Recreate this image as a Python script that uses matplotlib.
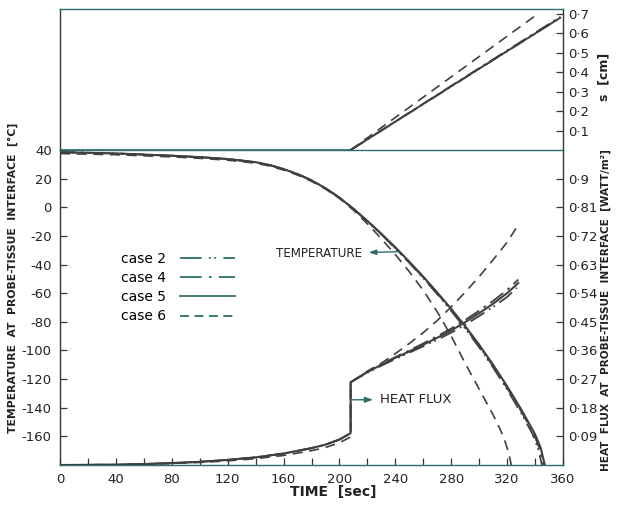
import matplotlib
matplotlib.use("Agg")
import matplotlib.pyplot as plt
from matplotlib.lines import Line2D

# ---------------- data ----------------
# Temperature at probe-tissue interface [°C]
t_T5 = [0, 40, 80, 100, 120, 140, 150, 160, 170, 180, 190, 200, 210, 220, 230, 240, 250,
        260, 270, 280, 290, 300, 310, 320, 330, 340, 344, 347]
T5 = [38.5, 37.6, 36, 35, 33.7, 31.5, 29.5, 26.7, 23.2, 18.8, 13.3, 6.7, -1, -9.5, -18.5, -28, -38,
      -48.5, -59.5, -71, -83, -96, -110, -125, -141, -158.5, -168, -180]
t_T2 = [0, 40, 80, 100, 120, 140, 150, 160, 170, 180, 190, 200, 210, 220, 230, 240, 250,
        260, 270, 280, 290, 300, 310, 320, 330, 338, 342, 345]
T2 = [38.5, 37.6, 36, 35, 33.7, 31.5, 29.5, 26.7, 23.2, 18.8, 13.3, 6.7, -1.2, -9.9, -19, -28.7, -38.8,
      -49.5, -60.7, -72.4, -84.6, -97.8, -112, -127.3, -143.6, -158, -168, -180]
t_T4 = [0, 40, 80, 100, 120, 140, 150, 160, 170, 180, 190, 200, 210, 220, 230, 240, 250,
        260, 270, 280, 290, 300, 310, 320, 330, 339, 343, 346]
T4 = [38.5, 37.6, 36, 35, 33.7, 31.5, 29.5, 26.7, 23.2, 18.8, 13.3, 6.7, -1.1, -9.7, -18.8, -28.4, -38.4,
      -49, -60.1, -71.7, -83.8, -96.9, -111, -126.2, -142.3, -158, -168, -180]
t_T6 = [0, 40, 80, 100, 120, 140, 150, 160, 170, 180, 190, 200, 210, 220, 230, 240, 250,
        260, 270, 280, 290, 300, 310, 315, 318, 321, 323]
T6 = [37.5, 36.7, 35.2, 34.2, 32.9, 30.8, 28.8, 26, 22.5, 18.1, 12.7, 6.2, -2, -11.5, -22, -33, -45,
      -58, -73, -90, -109, -127, -145, -155, -162, -171, -180]

# Heat flux at probe-tissue interface [W/m²]
t_q5 = [0, 40, 60, 80, 100, 120, 140, 160, 180, 190, 200, 208, 208, 220, 230, 240, 250, 260,
        270, 280, 290, 300, 310, 320, 328]
q5 = [0.0, 0.001, 0.003, 0.006, 0.010, 0.016, 0.024, 0.036, 0.053, 0.064, 0.080, 0.100, 0.26,
      0.292, 0.315, 0.337, 0.357, 0.378, 0.400, 0.423, 0.449, 0.477, 0.507, 0.540, 0.572]
t_q2 = [0, 40, 60, 80, 100, 120, 140, 160, 180, 190, 200, 208, 208, 220, 230, 240, 250, 260,
        270, 280, 290, 300, 310, 320, 327]
q2 = [0.0, 0.001, 0.003, 0.006, 0.010, 0.016, 0.024, 0.036, 0.053, 0.064, 0.080, 0.100, 0.26,
      0.290, 0.312, 0.333, 0.353, 0.373, 0.394, 0.416, 0.441, 0.468, 0.497, 0.528, 0.557]
t_q4 = [0, 40, 60, 80, 100, 120, 140, 160, 180, 190, 200, 208, 208, 220, 230, 240, 250, 260,
        270, 280, 290, 300, 310, 320, 328]
q4 = [0.0, 0.001, 0.003, 0.006, 0.010, 0.016, 0.024, 0.036, 0.053, 0.064, 0.080, 0.100, 0.26,
      0.293, 0.317, 0.339, 0.360, 0.382, 0.405, 0.429, 0.456, 0.485, 0.516, 0.550, 0.583]
t_q6 = [0, 40, 60, 80, 100, 120, 140, 160, 180, 190, 200, 208, 208, 220, 230, 240, 250, 260,
        270, 280, 290, 300, 310, 320, 328]
q6 = [0.0, 0.001, 0.002, 0.005, 0.008, 0.013, 0.020, 0.030, 0.045, 0.055, 0.070, 0.088, 0.26,
      0.295, 0.320, 0.350, 0.382, 0.416, 0.454, 0.497, 0.543, 0.592, 0.645, 0.700, 0.755]

# Frozen front position s [cm]
t_s0 = [0, 208]
s0 = [0, 0]
t_s5 = [208, 280, 358]
s5 = [0, 0.328, 0.68]
t_s2 = [208, 280, 357]
s2 = [0, 0.326, 0.675]
t_s4 = [208, 280, 358]
s4 = [0, 0.33, 0.685]
t_s6 = [208, 280, 342]
s6 = [0, 0.376, 0.70]

x_ticks = list(range(0, 361, 20))
T_ticks = [40, 20, 0, -20, -40, -60, -80, -100, -120, -140, -160]
q_ticks = [0.09, 0.18, 0.27, 0.36, 0.45, 0.54, 0.63, 0.72, 0.81, 0.9]
q_labels = ["0·09", "0·18", "0·27", "0·36", "0·45", "0·54", "0·63", "0·72", "0·81", "0·9"]
s_ticks = [0.1, 0.2, 0.3, 0.4, 0.5, 0.6, 0.7]
s_labels = ["0·1", "0·2", "0·3", "0·4", "0·5", "0·6", "0·7"]
cases = ["case 2", "case 4", "case 5", "case 6"]

# ---------------- style ----------------
plt.rcParams['font.family'] = ['DejaVu Sans']
curve = '#3d4141'
teal = '#2f6e68'
dark = '#333838'
ls2 = (0, (9, 3, 1, 2, 1, 3))
ls4 = (0, (9, 3, 1.5, 3))
ls5 = '-'
ls6 = (0, (6, 4))

W, H = 618, 508
fig = plt.figure(figsize=(W / 100, H / 100), dpi=100)
L, R = 60, 563
ax_top = fig.add_axes([L / W, 1 - 150 / H, (R - L) / W, 141 / H])
ax = fig.add_axes([L / W, 1 - 465 / H, (R - L) / W, 315 / H])
ax_q = ax.twinx()

# ---- top panel: s ----
ax_top.plot(t_s0, s0, color=teal, lw=1.2)
ax_top.plot(t_s2, s2, color=curve, lw=1.2, ls=ls2)
ax_top.plot(t_s4, s4, color=curve, lw=1.2, ls=ls4)
ax_top.plot(t_s5, s5, color=curve, lw=1.4, ls=ls5)
ax_top.plot(t_s6, s6, color=curve, lw=1.2, ls=ls6)
ax_top.set_xlim(0, 360)
ax_top.set_ylim(0, 0.725)
ax_top.set_xticks([])
ax_top.yaxis.tick_right()
ax_top.set_yticks(s_ticks)
ax_top.set_yticklabels(s_labels)
ax_top.tick_params(axis='y', direction='in', length=5, width=0.9, color=dark,
                   labelsize=9.5, pad=4, labelcolor='#222222')
ax_top.spines['bottom'].set_visible(False)
for sp in ['left', 'top', 'right']:
    ax_top.spines[sp].set_color(dark)
    ax_top.spines[sp].set_linewidth(1.0)
ax_top.spines['top'].set_color(teal)
ax_top.patch.set_alpha(0)

# ---- bottom panel: temperature ----
ax.plot(t_T2, T2, color=curve, lw=1.3, ls=ls2)
ax.plot(t_T4, T4, color=curve, lw=1.3, ls=ls4)
ax.plot(t_T5, T5, color=curve, lw=1.5, ls=ls5)
ax.plot(t_T6, T6, color=curve, lw=1.2, ls=ls6)
ax.set_xlim(0, 360)
ax.set_ylim(-180, 40)
ax.set_xticks(x_ticks)
ax.set_xticklabels([str(v) if v % 40 == 0 else '' for v in x_ticks])
ax.set_yticks(T_ticks)
ax.set_yticklabels([str(v) for v in T_ticks])
ax.tick_params(axis='both', direction='in', length=5, width=0.9, color=dark,
               labelsize=9.5, labelcolor='#222222')
ax.tick_params(axis='x', pad=6)
ax.tick_params(axis='y', pad=6)
ax.spines['bottom'].set_color(teal)
ax.spines['top'].set_color(teal)
ax.spines['left'].set_color(dark)
ax.spines['right'].set_color(dark)
for sp in ax.spines.values():
    sp.set_linewidth(1.0)

# ---- bottom panel: heat flux ----
ax_q.plot(t_q2, q2, color=curve, lw=1.3, ls=ls2)
ax_q.plot(t_q4, q4, color=curve, lw=1.3, ls=ls4)
ax_q.plot(t_q5, q5, color=curve, lw=1.5, ls=ls5)
ax_q.plot(t_q6, q6, color=curve, lw=1.2, ls=ls6)
ax_q.set_ylim(0, 0.99)
ax_q.set_yticks(q_ticks)
ax_q.set_yticklabels(q_labels)
ax_q.tick_params(axis='y', direction='in', length=5, width=0.9, color=dark,
                 labelsize=9.5, pad=4, labelcolor='#222222')
for sp in ax_q.spines.values():
    sp.set_visible(False)

# ---- annotations ----
ax.annotate('TEMPERATURE', xy=(242, -31), xytext=(216, -32.5), ha='right', va='center',
            fontsize=8.6, color='#222222',
            arrowprops=dict(arrowstyle='<|-,head_length=0.5,head_width=0.18', color=teal,
                            lw=1.0, shrinkA=3, shrinkB=0))
ax_q.annotate('HEAT FLUX', xy=(208.5, 0.205), xytext=(229, 0.205), ha='left', va='center',
              fontsize=9.5, color='#222222',
              arrowprops=dict(arrowstyle='<|-,head_length=0.5,head_width=0.18', color=teal,
                              lw=1.0, shrinkA=3, shrinkB=0))

# ---- legend ----
handles = [Line2D([], [], color=teal, lw=1.3, ls=(0, (12, 4, 1, 2, 1, 4))),
           Line2D([], [], color=teal, lw=1.3, ls=(0, (12, 4, 1.5, 4))),
           Line2D([], [], color=teal, lw=1.3, ls=ls5),
           Line2D([], [], color=teal, lw=1.3, ls=(0, (5, 3)))]
ax.legend(handles, cases, loc='upper left', bbox_to_anchor=(0.11, 0.695), frameon=False,
          markerfirst=False, handlelength=4.0, handletextpad=1.0, labelspacing=0.38,
          prop={'size': 10}, borderaxespad=0)

# ---- axis titles ----
fig.text(13 / W, 1 - 278 / H, 'TEMPERATURE  AT  PROBE-TISSUE  INTERFACE  [°C]', rotation=90,
         ha='center', va='center', fontsize=7.8, color='#222222', fontweight='bold')
fig.text(606 / W, 1 - 310 / H, 'HEAT  FLUX  AT  PROBE-TISSUE  INTERFACE  [WATT/m²]',
         rotation=90, ha='center', va='center', fontsize=7.6, color='#222222', fontweight='bold')
fig.text(604 / W, 1 - 77 / H, 's  [cm]', rotation=90, ha='center', va='center',
         fontsize=9, color='#222222', fontweight='bold')
fig.text(333 / W, 1 - 492 / H, 'TIME  [sec]', ha='center', va='center',
         fontsize=10, color='#222222', fontweight='bold')

fig.savefig('out.png', dpi=100, facecolor='white')
